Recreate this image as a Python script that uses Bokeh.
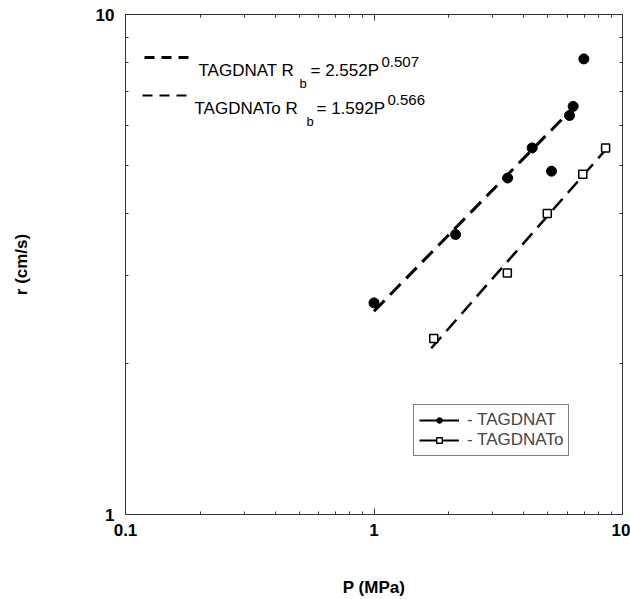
from bokeh.plotting import figure
from bokeh.models import (LogAxis, FixedTicker, NumeralTickFormatter, CustomJSTickFormatter,
                          Label, Arrow, Legend, LegendItem, Range1d)
from bokeh.embed import file_html
from bokeh.resources import INLINE

# ---- data ----
P_nat = [1.00, 2.13, 3.45, 4.33, 5.18, 6.12, 6.33, 6.99]
r_nat = [2.65, 3.63, 4.71, 5.41, 4.86, 6.28, 6.55, 8.15]
P_nato = [1.74, 3.44, 4.98, 6.92, 8.55]
r_nato = [2.25, 3.04, 4.00, 4.79, 5.41]

# power-law fits shown on the chart (end points of the dashed lines)
fit_nat_P = [1.0, 6.2]
fit_nat_r = [2.55, 6.44]
fit_nato_P = [1.7, 8.6]
fit_nato_r = [2.15, 5.38]

x_major = [0.1, 1, 10]
y_major = [1, 10]
x_minor = [0.2, 0.3, 0.4, 0.5, 0.6, 0.7, 0.8, 0.9, 2, 3, 4, 5, 6, 7, 8, 9]
y_minor = [2, 3, 4, 5, 6, 7, 8, 9]

NAN = float("nan")

FONT = "Liberation Sans"
AXC = "#333333"

p = figure(x_axis_type="log", y_axis_type="log",
           x_range=Range1d(0.1, 10), y_range=Range1d(1, 10),
           frame_width=497, frame_height=500,
           min_border_left=125, min_border_right=8, min_border_top=14, min_border_bottom=80,
           output_backend="svg", toolbar_location=None,
           background_fill_color="white", border_fill_color="white")
p.grid.visible = False
p.outline_line_color = AXC

def style_axis(ax, major, minor, show_labels):
    ax.ticker = FixedTicker(ticks=major, minor_ticks=minor)
    ax.axis_line_color = AXC
    ax.major_tick_line_color = AXC
    ax.minor_tick_line_color = AXC
    ax.major_tick_in = 6
    ax.major_tick_out = 0
    ax.minor_tick_in = 3
    ax.minor_tick_out = 0
    if show_labels:
        ax.formatter = NumeralTickFormatter(format="0.[0]")
        ax.major_label_text_font = FONT
        ax.major_label_text_font_style = "bold"
        ax.major_label_text_font_size = "17px"
        ax.major_label_text_color = "black"
        ax.axis_label_text_font = FONT
        ax.axis_label_text_font_style = "bold"
        ax.axis_label_text_font_size = "17px"
        ax.axis_label_text_color = "black"
    else:
        ax.formatter = CustomJSTickFormatter(code="return ''")
        ax.major_label_standoff = 0

xa = p.xaxis[0]
ya = p.yaxis[0]
style_axis(xa, x_major, x_minor, True)
style_axis(ya, y_major, y_minor, True)
xa.axis_label = "P (MPa)"
ya.axis_label = "r (cm/s)"
xa.major_label_standoff = 9
xa.axis_label_standoff = 39
ya.major_label_standoff = 11
ya.axis_label_standoff = 62

top = LogAxis()
right = LogAxis()
style_axis(top, x_major, x_minor, False)
style_axis(right, y_major, y_minor, False)
p.add_layout(top, "above")
p.add_layout(right, "right")

# fitted dashed lines
l1 = p.line(fit_nat_P, fit_nat_r, line_color="black", line_width=3, line_dash="15 8")
l2 = p.line(fit_nato_P, fit_nato_r, line_color="black", line_width=2.5, line_dash="15 8")

# data markers
s1 = p.scatter(P_nat, r_nat, marker="circle", size=10, fill_color="black", line_color="black")
s2 = p.scatter(P_nato, r_nato, marker="square", size=8, fill_color="white",
               line_color="black", line_width=1.5)

# proxy solid lines for the legend glyphs (no visible points)
pl1 = p.line(x=[NAN, NAN], y=[NAN, NAN], line_color="black", line_width=2)
pl2 = p.line(x=[NAN, NAN], y=[NAN, NAN], line_color="black", line_width=2)

# ---- annotations placed in frame pixel units ----
FL, FB = 125, 514  # frame left / bottom in picture pixels
def sx(X):
    return X - FL
def sy(Y):
    return FB - Y

def txt(X, Y, s, size):
    p.add_layout(Label(x=sx(X), y=sy(Y), x_units="screen", y_units="screen", text=s,
                       text_font=FONT, text_font_size=f"{size}px", text_color="black",
                       text_align="left", text_baseline="alphabetic"))

def dash(X0, X1, Y, w):
    p.add_layout(Arrow(x_start=sx(X0), y_start=sy(Y), x_end=sx(X1), y_end=sy(Y),
                       start_units="screen", end_units="screen", start=None, end=None,
                       line_color="black", line_width=w, line_dash="10 7"))

dash(144, 192, 57, 3)
txt(198, 70, "TAGDNAT R", 17)
txt(299, 83, "b", 13)
txt(310, 70, "= 2.552P", 17)
txt(381, 61, "0.507", 15)

dash(142, 190, 95, 2)
txt(194, 108, "TAGDNATo R", 17)
txt(306, 121, "b", 13)
txt(316, 108, "= 1.592P", 17)
txt(387, 99, "0.566", 15)

legend = Legend(items=[LegendItem(label="- TAGDNAT", renderers=[pl1, s1]),
                       LegendItem(label="- TAGDNATo", renderers=[pl2, s2])],
                location=(sx(413), sy(456)),
                border_line_color="black", border_line_width=1.5,
                background_fill_color="white", background_fill_alpha=1.0,
                label_text_font=FONT, label_text_font_size="17px",
                glyph_width=40, glyph_height=14, label_height=14,
                label_standoff=8, padding=5, spacing=0, margin=0)
p.add_layout(legend)

open("out.html", "w").write(file_html(p, INLINE))
